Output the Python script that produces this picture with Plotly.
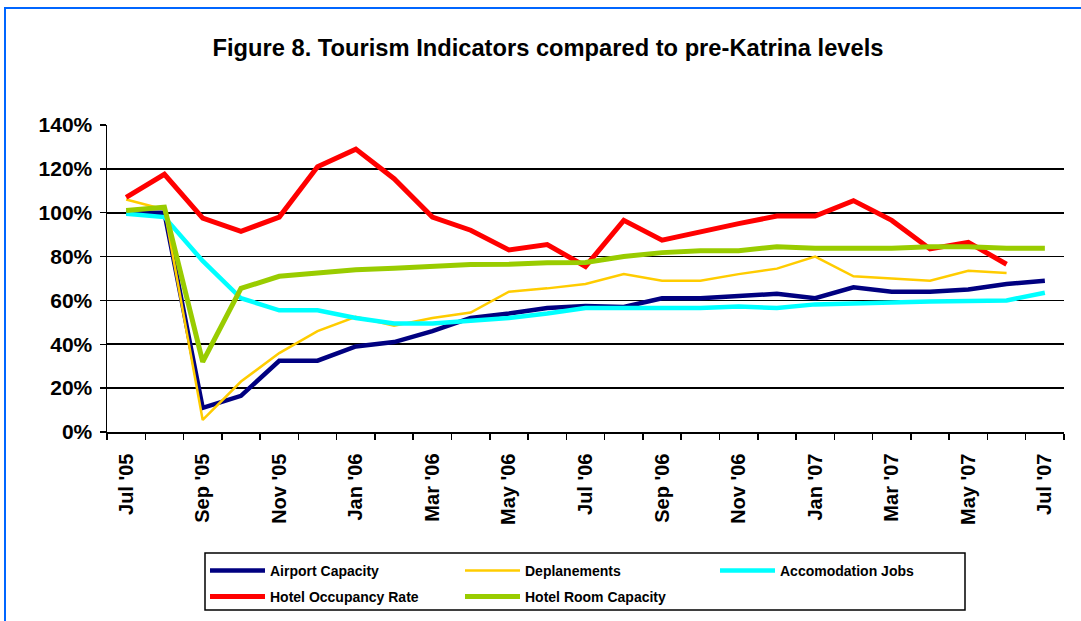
import plotly.graph_objects as go

# ---- data ----
months = ["Jul '05", "Aug '05", "Sep '05", "Oct '05", "Nov '05", "Dec '05",
          "Jan '06", "Feb '06", "Mar '06", "Apr '06", "May '06", "Jun '06",
          "Jul '06", "Aug '06", "Sep '06", "Oct '06", "Nov '06", "Dec '06",
          "Jan '07", "Feb '07", "Mar '07", "Apr '07", "May '07", "Jun '07", "Jul '07"]

airport_capacity = [100, 100, 11, 16.5, 32.5, 32.5, 39, 41, 46, 52, 54, 56.5, 57.5,
                    57, 61, 61, 62, 63, 61, 66, 64, 64, 65, 67.5, 69]
deplanements = [106, 101.5, 5.5, 23, 36, 46, 52.5, 48.5, 52, 54.5, 64, 65.5, 67.5,
                72, 69, 69, 72, 74.5, 80, 71, 70, 69, 73.5, 72.5, None]
accomodation_jobs = [99.5, 98, 78, 61, 55.5, 55.5, 52, 49.5, 49.5, 50.5, 52, 54, 56.5,
                     56.5, 56.5, 56.5, 57.2, 56.5, 58.2, 58.4, 59, 59.5, 60, 60, 63.5]
hotel_occupancy = [107, 117.5, 97.5, 91.5, 98, 121, 129, 115.5, 98, 92, 83, 85.5, 75.5,
                   96.5, 87.5, 91.5, 95, 98.5, 98.5, 105.5, 96.5, 83.5, 86.5, 76.5, None]
hotel_room_capacity = [101, 102.5, 32, 65.5, 71, 72.5, 74, 74.7, 75.5, 76.4, 76.5, 77.2, 77.3,
                       80, 81.8, 82.7, 82.7, 84.5, 83.8, 83.8, 83.8, 84.5, 84.5, 83.8, 83.8]

y_ticks = [0, 20, 40, 60, 80, 100, 120, 140]

series = [
    ("Airport Capacity", airport_capacity, "#000080", 4.5, "legend"),
    ("Deplanements", deplanements, "#FFCC00", 2.5, "legend"),
    ("Accomodation Jobs", accomodation_jobs, "#00FFFF", 4.5, "legend"),
    ("Hotel Occupancy Rate", hotel_occupancy, "#FF0000", 5, "legend2"),
    ("Hotel Room Capacity", hotel_room_capacity, "#99CC00", 5, "legend2"),
]

# ---- layout geometry (pixels) ----
W, H = 1081, 621
ML, MR, MT, MB = 107, 17, 125, 189
PW, PH = W - ML - MR, H - MT - MB


def px_x(p):
    return (p - ML) / PW


def px_y(p):
    return (H - MB - p) / PH


FONT = "Arial, 'Liberation Sans', Helvetica, sans-serif"
xidx = list(range(len(months)))

fig = go.Figure()
for name, vals, color, width, lg in series:
    fig.add_trace(go.Scatter(
        x=xidx, y=vals, name=name, mode="lines",
        line=dict(color=color, width=width),
        legend=lg, hoverinfo="skip",
    ))

legend_common = dict(
    orientation="h", xanchor="left", yanchor="top",
    bgcolor="rgba(0,0,0,0)", borderwidth=0,
    font=dict(family=FONT, size=14, color="black", weight="bold"),
    entrywidth=185, entrywidthmode="pixels", itemwidth=55,
    tracegroupgap=0,
)

fig.update_layout(
    width=W, height=H,
    margin=dict(l=ML, r=MR, t=MT, b=MB, autoexpand=False),
    paper_bgcolor="white", plot_bgcolor="white",
    title=dict(
        text="Figure 8. Tourism Indicators compared to pre-Katrina levels",
        font=dict(family=FONT, size=23.7, color="black", weight="bold"),
        xref="container", x=548 / W, xanchor="center",
        yref="container", y=1 - 48 / H, yanchor="middle",
    ),
    xaxis=dict(
        range=[-0.5, len(months) - 0.5],
        tickmode="array",
        tickvals=xidx[::2], ticktext=months[::2],
        tickangle=-90, ticks="", ticklen=0,
        tickfont=dict(family=FONT, size=20, color="black", weight="bold"),
        ticklabelstandoff=12,
        minor=dict(tick0=-0.5, dtick=1, ticks="outside", ticklen=6,
                   tickwidth=1.5, tickcolor="black", showgrid=False),
        showline=True, linecolor="black", linewidth=1.5,
        showgrid=False, zeroline=False, fixedrange=True,
    ),
    yaxis=dict(
        range=[0, 140], tickmode="array", tickvals=y_ticks,
        ticktext=[f"{v}%" for v in y_ticks],
        ticks="outside", ticklen=6, tickwidth=1.5, tickcolor="black",
        tickfont=dict(family=FONT, size=21, color="black", weight="bold"),
        ticklabelstandoff=3,
        showline=True, linecolor="black", linewidth=1.5,
        showgrid=True, gridcolor="black", gridwidth=1.6,
        zeroline=False, fixedrange=True,
    ),
    legend=dict(x=px_x(205), y=px_y(555), **legend_common),
    legend2=dict(x=px_x(205), y=px_y(581), **legend_common),
    shapes=[
        # outer blue frame
        dict(type="rect", xref="paper", yref="paper",
             x0=px_x(5), x1=px_x(1095), y0=px_y(640), y1=px_y(8),
             line=dict(color="#0066FF", width=2), fillcolor="rgba(0,0,0,0)", layer="below"),
        # legend box
        dict(type="rect", xref="paper", yref="paper",
             x0=px_x(205), x1=px_x(965), y0=px_y(610), y1=px_y(553),
             line=dict(color="black", width=1.5), fillcolor="rgba(0,0,0,0)"),
    ],
)

fig.write_html("out.html", include_plotlyjs=True,
               config={"displayModeBar": False, "staticPlot": True},
               post_script="document.body.style.margin='0';")
